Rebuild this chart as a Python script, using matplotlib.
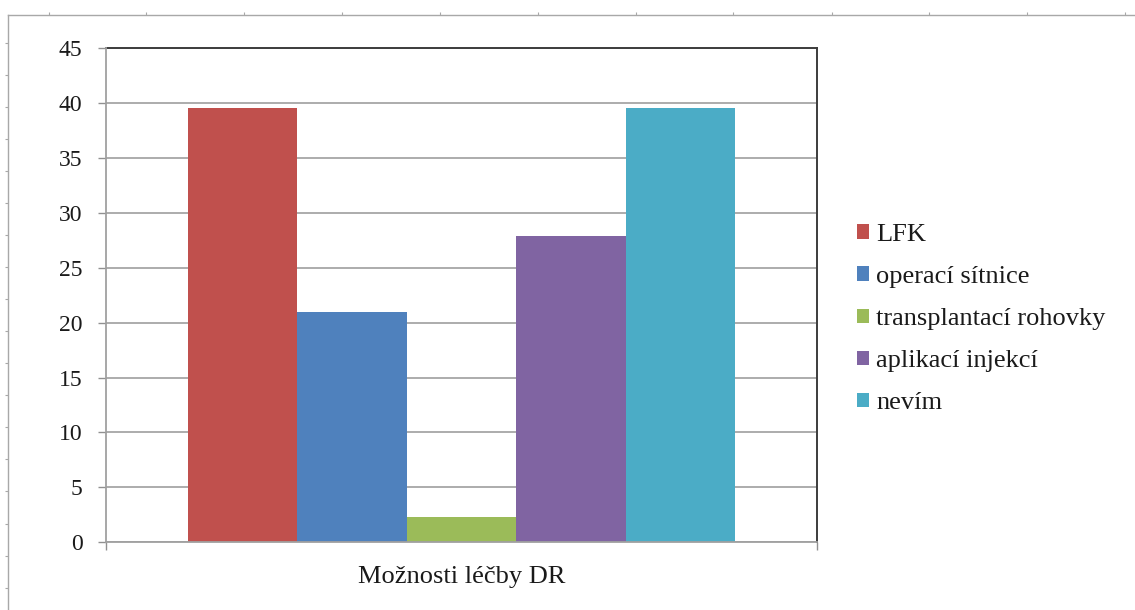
import matplotlib.pyplot as plt
import numpy as np

# survey answers, percent of respondents
category = 'Možnosti léčby DR'
labels = ['LFK', 'operací sítnice', 'transplantací rohovky',
          'aplikací injekcí', 'nevím']
values = [39.53, 20.93, 2.33, 27.91, 39.53]
colors = ['#C0504D', '#4F81BD', '#9BBB59', '#8064A2', '#4BACC6']
yticks = [0, 5, 10, 15, 20, 25, 30, 35, 40, 45]

W, H = 1135, 610


def main():
    plt.rcParams['font.family'] = ['Liberation Serif', 'DejaVu Serif']
    plt.rcParams['font.size'] = 17
    plt.rcParams['text.color'] = '#1a1a1a'

    fig = plt.figure(figsize=(W / 100, H / 100), dpi=100)

    # sheet border with its column/row ticks
    frame = fig.add_axes([8 / W, 0, (W - 8) / W, (H - 15) / H])
    frame.set_xlim(8, W)
    frame.set_ylim(H, 15)
    frame.patch.set_alpha(0)
    for side in ('right', 'bottom'):
        frame.spines[side].set_visible(False)
    for side in ('top', 'left'):
        frame.spines[side].set_color('#a8a8a8')
        frame.spines[side].set_linewidth(1.0)
    frame.xaxis.tick_top()
    frame.set_xticks([49, 146, 244, 342, 440, 538, 636, 733, 832, 929, 1027, 1125])
    frame.set_yticks([43, 75, 107, 139, 171, 203, 235, 267, 299, 331, 363,
                      395, 427, 459, 491, 524, 556, 588])
    frame.tick_params(length=2.5, width=0.8, color='#a8a8a8',
                      labeltop=False, labelleft=False)

    # plot area
    left, right, top, bottom = 106, 817, 48, 542.3
    ax = fig.add_axes([left / W, (H - bottom) / H, (right - left) / W,
                       (bottom - top) / H])

    n = len(values)
    gap = 1.5
    w = 1 / (n + gap)
    offsets = (np.arange(n) - (n - 1) / 2) * w
    for off, v, c, lab in zip(offsets, values, colors, labels):
        ax.bar(off, v, width=w, color=c, label=lab, zorder=2)

    ax.set_xlim(-0.5, 0.5)
    ax.set_ylim(0, 45)
    ax.set_yticks(yticks)
    ax.yaxis.grid(True, color='#a6a6a6', linewidth=1.3, zorder=1)
    ax.set_axisbelow(True)

    ax.set_xticks([0], labels=[category], fontsize=19)
    ax.set_xticks([-0.5, 0.5], minor=True)
    ax.tick_params(axis='x', which='major', length=0, pad=17)
    ax.tick_params(axis='x', which='minor', length=6, width=1.0,
                   color='#909090')
    ax.tick_params(axis='y', length=6, width=1.0, color='#909090', pad=11,
                   labelcolor='#1a1a1a')
    ax.tick_params(axis='x', labelcolor='#1a1a1a')

    for side in ('top', 'right'):
        ax.spines[side].set_color('#3c3c3c')
        ax.spines[side].set_linewidth(1.4)
    for side in ('left', 'bottom'):
        ax.spines[side].set_color('#a0a0a0')
        ax.spines[side].set_linewidth(1.3)
        ax.spines[side].set_zorder(3)

    ax.legend(loc='center left', bbox_to_anchor=(857 / W, (H - 319) / H),
              bbox_transform=fig.transFigure, frameon=False, fontsize=19,
              borderpad=0, borderaxespad=0, handlelength=0.45,
              handleheight=0.45, handletextpad=0.27, labelspacing=0.76)

    fig.savefig('out.png', dpi=100)


if __name__ == '__main__':
    main()
